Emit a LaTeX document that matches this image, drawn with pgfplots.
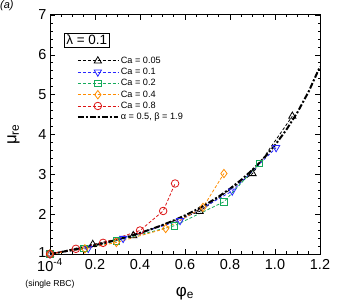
\documentclass[border=0pt]{standalone}
\usepackage{pgfplots}
\pgfplotsset{compat=1.18}
\usepackage{fontspec}
\setmainfont{Liberation Sans}
\definecolor{cblue}{RGB}{40,40,255}
\definecolor{cgreen}{RGB}{20,170,90}
\definecolor{corange}{RGB}{255,140,0}
\definecolor{cred}{RGB}{220,20,20}
\begin{document}
\begin{tikzpicture}
\begin{axis}[
  at={(0,0)}, anchor=south west,
  scale only axis, width=270bp, height=239bp,
  xmin=0, xmax=1.2, ymin=1, ymax=7,
  xtick={0,0.2,0.4,0.6,0.8,1.0,1.2},
  xticklabels={10\textsuperscript{-4},0.2,0.4,0.6,0.8,1.0,1.2},
  ytick={1,2,3,4,5,6,7},
  yticklabels={\raisebox{2.5bp}{1},2,3,4,5,6,7},
  minor x tick num=3, minor y tick num=4,
  tick align=inside, tick pos=both,
  major tick length=5bp, minor tick length=2.5bp,
  axis line style={line width=1pt},
  every tick/.style={line width=0.6pt,black},
  ticklabel style={font=\fontsize{14.5}{16}\selectfont},
  xticklabel style={yshift=-1.5bp},
  xlabel={φ\textsubscript{e}}, ylabel={μ\textsubscript{re}},
  xlabel style={font=\fontsize{17}{19}\selectfont, yshift=-9bp},
  ylabel style={font=\fontsize{17}{19}\selectfont, yshift=12bp},
  clip=false,
  legend style={draw=none, fill=none, at={(rel axis cs:0.095,0.838)}, anchor=north west,
    font=\fontsize{9.2}{10}\selectfont, row sep=-0.6pt, inner sep=1pt},
  legend cell align=left,
  legend image code/.code={\draw[mark repeat=2,mark phase=2,#1] plot coordinates {(0bp,0bp) (20bp,0bp) (40bp,0bp)};},
]
\addplot[black, dash pattern=on 3pt off 2pt, line width=0.8pt, mark=triangle, mark size=4.2pt, mark options={solid, line width=0.8pt}]
 coordinates {(0.0001,1) (0.19,1.24) (0.37,1.46) (0.665,2.07) (0.9,3.02) (1.077,4.46)};
\addlegendentry{Ca = 0.05}
\addplot[cblue, dash pattern=on 3pt off 2pt, line width=0.8pt, mark=triangle, mark size=4.2pt, mark options={solid, rotate=180, line width=0.8pt}]
 coordinates {(0.0001,1) (0.17,1.14) (0.325,1.39) (0.578,1.84) (0.81,2.58) (1.005,3.67)};
\addlegendentry{Ca = 0.1}
\addplot[cgreen, dash pattern=on 3pt off 2pt, line width=0.8pt, mark=square, mark size=3.2pt, mark options={solid, line width=0.8pt}]
 coordinates {(0.0001,1) (0.15,1.14) (0.295,1.33) (0.553,1.71) (0.773,2.31) (0.93,3.27)};
\addlegendentry{Ca = 0.2}
\addplot[corange, dash pattern=on 3pt off 2pt, line width=0.8pt, mark=diamond, mark size=4.2pt, mark options={solid, line width=0.8pt}]
 coordinates {(0.0001,1) (0.155,1.13) (0.295,1.29) (0.514,1.64) (0.68,2.17) (0.773,3.02)};
\addlegendentry{Ca = 0.4}
\addplot[cred, dash pattern=on 3pt off 2pt, line width=0.8pt, mark=o, mark size=3.8pt, mark options={solid, line width=0.8pt}]
 coordinates {(0.0001,1) (0.115,1.13) (0.236,1.28) (0.40,1.59) (0.503,2.08) (0.556,2.77)};
\addlegendentry{Ca = 0.8}
\addplot[black, line width=2pt, dash pattern=on 6pt off 2pt on 2pt off 2pt]
 coordinates {(0,1) (0.05,1.04928) (0.1,1.10236) (0.15,1.15967) (0.2,1.22163) (0.25,1.28880)
 (0.3,1.36177) (0.35,1.44126) (0.4,1.52806) (0.45,1.62306) (0.5,1.72739) (0.55,1.84232)
 (0.6,1.96934) (0.65,2.11020) (0.7,2.26705) (0.75,2.44245) (0.8,2.63947) (0.85,2.86173)
 (0.9,3.11389) (0.95,3.40166) (1.0,3.73213) (1.05,4.11412) (1.1,4.55935) (1.15,5.08238) (1.2,5.70323)};
\addlegendentry{α = 0.5, β = 1.9}
\node[draw, line width=0.6pt, inner sep=2pt, font=\fontsize{13.5}{15}\selectfont, anchor=north west] at (rel axis cs:0.052,0.925) {λ = 0.1};
\node[font=\fontsize{8.7}{10}\selectfont, anchor=north] at (axis cs:0,1) [yshift=-23bp] {(single RBC)};
\end{axis}
\node[font=\itshape\fontsize{11}{13}\selectfont, anchor=north west, inner sep=0pt] at (-50bp,254bp) {(a)};
\pgfresetboundingbox
\path (-50bp,-46bp) rectangle (287bp,254bp);
\end{tikzpicture}
\end{document}
